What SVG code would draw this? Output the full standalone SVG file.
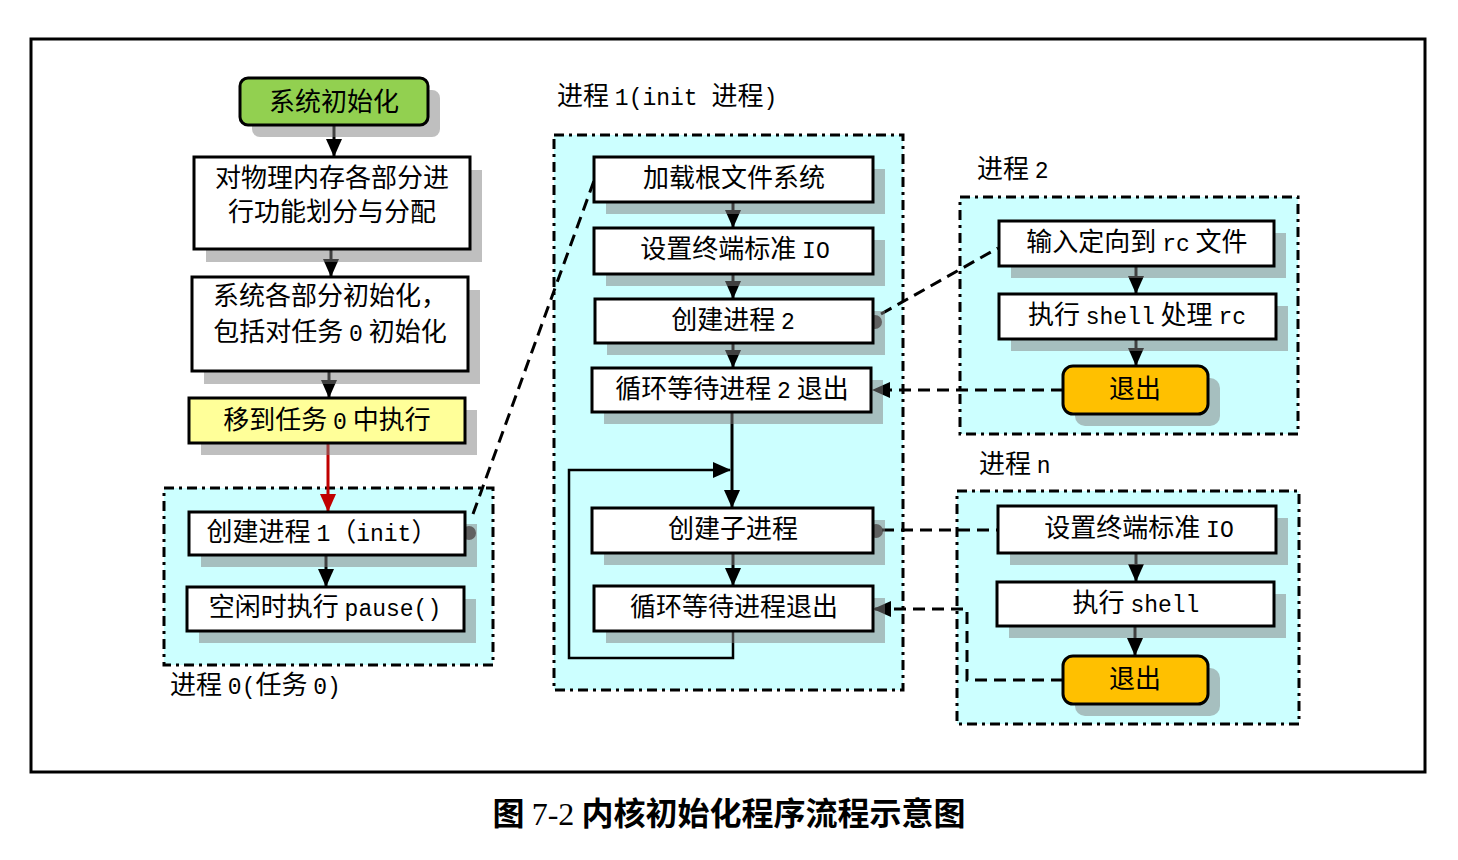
<svg xmlns="http://www.w3.org/2000/svg" width="1458" height="860" viewBox="0 0 1458 860">
<style>
text{font-family:"Noto Sans CJK SC","Liberation Mono",sans-serif;font-size:26px;fill:#000;text-anchor:middle}
.lt{font-family:"Liberation Mono","Noto Sans CJK SC",monospace;font-size:23px}
.lbl{text-anchor:start}
.box{fill:#fff;stroke:#000;stroke-width:3}
.sh{fill:#808080;fill-opacity:0.5}
.grp{fill:#ccffff;stroke:#000;stroke-width:3;stroke-dasharray:10 5 3 5}
.ln{fill:none;stroke:#000;stroke-width:3}
.dsh{fill:none;stroke:#000;stroke-width:3;stroke-dasharray:12 7}
.dot{fill:#404040}
.cap{font-size:32px;font-weight:bold}
</style>
<defs>
<marker id="ah" markerUnits="userSpaceOnUse" markerWidth="18" markerHeight="18" viewBox="0 0 18 18" refX="17" refY="9" orient="auto"><path d="M0,1 L18,9 L0,17 Z" fill="#000"/></marker>
<marker id="ahr" markerUnits="userSpaceOnUse" markerWidth="18" markerHeight="18" viewBox="0 0 18 18" refX="17" refY="9" orient="auto"><path d="M0,1 L18,9 L0,17 Z" fill="#c00000"/></marker>
</defs>
<rect x="0" y="0" width="1458" height="860" fill="#fff"/>
<rect x="31" y="39" width="1394" height="733" fill="none" stroke="#000" stroke-width="3"/>

<g id="group-p0"><rect class="grp" x="164" y="488" width="329" height="177"/><text class="lbl" x="170" y="694">进程 <tspan class="lt">0(</tspan>任务 <tspan class="lt">0)</tspan></text></g>
<g id="group-p1"><rect class="grp" x="554" y="135" width="349" height="555"/><text class="lbl" x="557" y="105">进程 <tspan class="lt">1(init </tspan>进程<tspan class="lt">)</tspan></text></g>
<g id="group-p2"><rect class="grp" x="960" y="197" width="338" height="237"/><text class="lbl" x="977" y="178">进程 <tspan class="lt">2</tspan></text></g>
<g id="group-pn"><rect class="grp" x="957" y="491" width="342" height="233"/><text class="lbl" x="979" y="473">进程 <tspan class="lt">n</tspan></text></g>

<g id="connectors">
<circle class="dot" cx="469" cy="533" r="7"/>
<circle class="dot" cx="875" cy="322" r="7"/>
<circle class="dot" cx="876" cy="531" r="7"/>
<line class="ln" x1="334" y1="125" x2="334" y2="156" marker-end="url(#ah)"/>
<line class="ln" x1="331" y1="249" x2="331" y2="276" marker-end="url(#ah)"/>
<line class="ln" x1="329" y1="371" x2="329" y2="397" marker-end="url(#ah)"/>
<line x1="328" y1="443" x2="328" y2="511" stroke="#c00000" stroke-width="3" marker-end="url(#ahr)"/>
<line class="ln" x1="326" y1="555" x2="326" y2="586" marker-end="url(#ah)"/>
<line class="ln" x1="733" y1="202" x2="733" y2="227" marker-end="url(#ah)"/>
<line class="ln" x1="733" y1="274" x2="733" y2="298" marker-end="url(#ah)"/>
<line class="ln" x1="733" y1="343" x2="733" y2="367" marker-end="url(#ah)"/>
<line class="ln" x1="732" y1="412" x2="732" y2="507" marker-end="url(#ah)"/>
<line class="ln" x1="733" y1="553" x2="733" y2="585" marker-end="url(#ah)"/>
<path d="M733,631 V658 H569 V470 H730" fill="none" stroke="#000" stroke-width="2.5" marker-end="url(#ah)"/>
<line class="ln" x1="1136" y1="266" x2="1136" y2="293" marker-end="url(#ah)"/>
<line class="ln" x1="1136" y1="339" x2="1136" y2="365" marker-end="url(#ah)"/>
<line class="ln" x1="1136" y1="553" x2="1136" y2="581" marker-end="url(#ah)"/>
<line class="ln" x1="1135" y1="626" x2="1135" y2="655" marker-end="url(#ah)"/>
<line class="dsh" x1="473" y1="514" x2="595" y2="178"/>
<line class="dsh" x1="881" y1="314" x2="998" y2="248"/>
<line class="dsh" x1="1063" y1="390" x2="873" y2="390" marker-end="url(#ah)"/>
<line class="dsh" x1="882" y1="530" x2="998" y2="530"/>
<path class="dsh" d="M1063,680 H967 V609 H874" marker-end="url(#ah)"/>
</g>

<g id="n-sysinit"><rect class="sh" x="252" y="90" width="188" height="47" rx="8"/><rect x="240" y="78" width="188" height="47" rx="8" fill="#92d050" stroke="#000" stroke-width="3"/><text x="334" y="111">系统初始化</text></g>
<g id="n-mem"><rect class="sh" x="206" y="170" width="276" height="92"/><rect class="box" x="194" y="157" width="276" height="92"/><text x="332" y="187">对物理内存各部分进</text><text x="332" y="221">行功能划分与分配</text></g>
<g id="n-parts"><rect class="sh" x="204" y="290" width="276" height="94"/><rect class="box" x="192" y="277" width="276" height="94"/><text x="330" y="305">系统各部分初始化，</text><text x="330" y="341">包括对任务 <tspan class="lt">0</tspan> 初始化</text></g>
<g id="n-move"><rect class="sh" x="201" y="410" width="276" height="45"/><rect x="189" y="398" width="276" height="45" fill="#ffff99" stroke="#000" stroke-width="3"/><text x="327" y="429">移到任务 <tspan class="lt">0</tspan> 中执行</text></g>
<g id="n-create1"><rect class="sh" x="201" y="524" width="276" height="43"/><rect class="box" x="189" y="512" width="276" height="43"/><text x="322" y="541">创建进程 <tspan class="lt">1</tspan>（<tspan class="lt">init</tspan>）</text></g>
<g id="n-pause"><rect class="sh" x="199" y="599" width="277" height="44"/><rect class="box" x="187" y="587" width="277" height="44"/><text x="325" y="616">空闲时执行 <tspan class="lt">pause()</tspan></text></g>

<g id="n-mount"><rect class="sh" x="606" y="169" width="279" height="45"/><rect class="box" x="594" y="157" width="279" height="45"/><text x="734" y="187">加载根文件系统</text></g>
<g id="n-io1"><rect class="sh" x="606" y="240" width="279" height="46"/><rect class="box" x="594" y="228" width="279" height="46"/><text x="735" y="258">设置终端标准 <tspan class="lt">IO</tspan></text></g>
<g id="n-create2"><rect class="sh" x="607" y="311" width="278" height="44"/><rect class="box" x="595" y="299" width="278" height="44"/><text x="733" y="329">创建进程 <tspan class="lt">2</tspan></text></g>
<g id="n-wait2"><rect class="sh" x="604" y="380" width="279" height="44"/><rect class="box" x="592" y="368" width="279" height="44"/><text x="732" y="398">循环等待进程 <tspan class="lt">2</tspan> 退出</text></g>
<g id="n-child"><rect class="sh" x="604" y="520" width="281" height="45"/><rect class="box" x="592" y="508" width="281" height="45"/><text x="733" y="538">创建子进程</text></g>
<g id="n-waitn"><rect class="sh" x="606" y="598" width="279" height="45"/><rect class="box" x="594" y="586" width="279" height="45"/><text x="734" y="616">循环等待进程退出</text></g>

<g id="n-rc"><rect class="sh" x="1011" y="233" width="275" height="45"/><rect class="box" x="999" y="221" width="275" height="45"/><text x="1137" y="251">输入定向到 <tspan class="lt">rc</tspan> 文件</text></g>
<g id="n-shellrc"><rect class="sh" x="1011" y="306" width="277" height="45"/><rect class="box" x="999" y="294" width="277" height="45"/><text x="1137" y="324">执行 <tspan class="lt">shell</tspan> 处理 <tspan class="lt">rc</tspan></text></g>
<g id="n-exit2"><rect class="sh" x="1075" y="378" width="145" height="48" rx="10"/><rect x="1063" y="366" width="145" height="48" rx="10" fill="#ffc000" stroke="#000" stroke-width="3"/><text x="1135" y="398">退出</text></g>

<g id="n-ion"><rect class="sh" x="1010" y="518" width="278" height="47"/><rect class="box" x="998" y="506" width="278" height="47"/><text x="1139" y="537">设置终端标准 <tspan class="lt">IO</tspan></text></g>
<g id="n-shell"><rect class="sh" x="1009" y="594" width="277" height="44"/><rect class="box" x="997" y="582" width="277" height="44"/><text x="1136" y="612">执行 <tspan class="lt">shell</tspan></text></g>
<g id="n-exitn"><rect class="sh" x="1075" y="668" width="145" height="48" rx="10"/><rect x="1063" y="656" width="145" height="48" rx="10" fill="#ffc000" stroke="#000" stroke-width="3"/><text x="1135" y="688">退出</text></g>

<text class="cap" x="729" y="825">图 <tspan font-family="Liberation Serif" font-weight="normal">7-2</tspan> 内核初始化程序流程示意图</text>
</svg>
